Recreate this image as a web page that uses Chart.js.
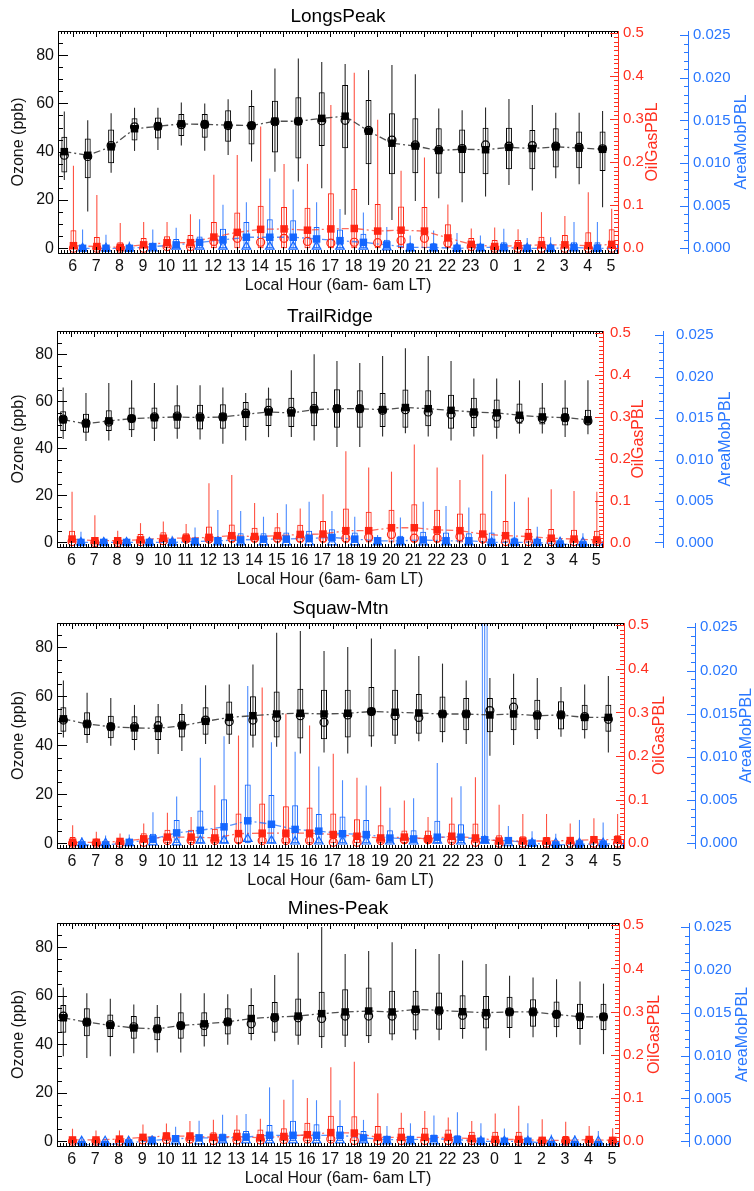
<!DOCTYPE html>
<html>
<head>
<meta charset="utf-8">
<script src="https://cdn.jsdelivr.net/npm/chart.js@4.4.1/dist/chart.umd.min.js"></script>
<style>
  body { margin: 0; background: #fff; width: 754px; height: 1191px; position: relative; overflow: hidden; }
  .panel { position: absolute; left: 0; width: 754px; }
</style>
</head>
<body>
<div class="panel" id="p0"><canvas id="c0"></canvas></div>
<div class="panel" id="p1"><canvas id="c1"></canvas></div>
<div class="panel" id="p2"><canvas id="c2"></canvas></div>
<div class="panel" id="p3"><canvas id="c3"></canvas></div>
<script>
// hours shown along the bottom, 6am to 6am local time
const hourLabels = ['6', '7', '8', '9', '10', '11', '12', '13', '14', '15', '16', '17', '18', '19', '20', '21', '22', '23', '0', '1', '2', '3', '4', '5']
const stationNames = ['LongsPeak', 'TrailRidge', 'Squaw-Mtn', 'Mines-Peak']
const ozoneTicks = [0, 20, 40, 60, 80]
const oilGasTicks = [0, 0.1, 0.2, 0.3, 0.4, 0.5]
const areaMobTicks = [0, 0.005, 0.01, 0.015, 0.02, 0.025]

// each row: [low whisker, box bottom, box top, high whisker, filled square, open marker]
const longsPeakOzone = [
  [28.3, 31.4, 46.2, 56.6, 40.0, 38.5], [15.2, 29.0, 45.5, 53.0, 38.5, 38.0], [31.3, 35.2, 49.2, 55.9, 42.0, 42.5],
  [40.3, 44.6, 53.8, 58.2, 49.5, 50.3], [40.7, 45.5, 54.2, 58.2, 50.5, 50.5], [42.5, 46.5, 55.6, 60.4, 51.5, 51.2],
  [40.4, 45.8, 55.6, 60.0, 51.3, 51.3], [38.6, 44.1, 57.2, 61.7, 51.0, 50.8], [35.9, 43.0, 58.9, 65.5, 50.8, 50.8],
  [31.7, 39.6, 61.1, 74.5, 52.6, 52.4], [27.6, 37.2, 62.5, 78.6, 52.6, 52.6], [24.8, 42.3, 64.6, 77.2, 53.8, 52.8],
  [13.8, 41.4, 67.6, 76.3, 54.7, 53.0], [17.9, 34.8, 61.4, 73.8, 48.5, 48.8], [11.7, 30.6, 55.9, 75.9, 43.5, 44.8],
  [19.6, 31.0, 53.8, 72.1, 42.3, 42.8], [20.7, 30.8, 49.7, 57.9, 40.5, 40.8], [19.0, 31.0, 49.2, 57.2, 41.0, 41.3],
  [21.4, 30.6, 49.9, 58.3, 40.8, 42.8], [26.2, 32.7, 49.9, 61.8, 41.8, 42.3], [23.9, 32.7, 49.0, 59.3, 41.3, 42.5],
  [29.0, 33.4, 49.7, 56.1, 42.0, 42.3], [26.5, 33.1, 48.3, 56.1, 41.5, 41.8], [17.0, 32.0, 48.3, 56.8, 41.0, 41.2]
]
const longsPeakOilGas = [
  [0, 0, 0.042, 0.192, 0.006, 0], [0, 0, 0.026, 0.124, 0.004, 0], [0, 0, 0.014, 0.059, 0.002, 0],
  [0, 0, 0.024, 0.061, 0.008, 0], [0, 0, 0.028, 0.061, 0.013, 0.004], [0, 0, 0.031, 0.079, 0.013, 0.004],
  [0, 0, 0.061, 0.171, 0.026, 0.016], [0, 0, 0.083, 0.217, 0.037, 0.023], [0, 0, 0.099, 0.283, 0.044, 0.014],
  [0, 0, 0.096, 0.196, 0.045, 0.023], [0, 0, 0.094, 0.196, 0.042, 0.016], [0, 0, 0.128, 0.333, 0.045, 0.012],
  [0, 0, 0.138, 0.408, 0.046, 0.014], [0, 0, 0.103, 0.299, 0.040, 0.013], [0, 0, 0.097, 0.180, 0.042, 0.018],
  [0, 0, 0.096, 0.211, 0.040, 0.023], [0, 0, 0.056, 0.102, 0.024, 0.012], [0, 0, 0.024, 0.046, 0.009, 0.004],
  [0, 0, 0.019, 0.048, 0.004, 0], [0, 0, 0.019, 0.044, 0.006, 0], [0, 0, 0.027, 0.084, 0.008, 0],
  [0, 0, 0.031, 0.075, 0.008, 0], [0, 0, 0.037, 0.130, 0.006, 0], [0, 0, 0.044, 0.092, 0.009, 0]
]
const longsPeakAreaMob = [
  [0, 0, 0.0003, 0.0022, 0, 0], [0, 0, 0.0001, 0.0016, 0, 0], [0, 0, 0.0001, 0.0008, 0, 0],
  [0, 0, 0.0005, 0.0022, 0.0002, 0], [0, 0, 0.0011, 0.0024, 0.0004, 0.0002], [0, 0, 0.0014, 0.0034, 0.0007, 0.0002],
  [0, 0, 0.0023, 0.0051, 0.0010, 0.0002], [0, 0, 0.0031, 0.0054, 0.0013, 0.0002], [0, 0, 0.0034, 0.0082, 0.0013, 0.0002],
  [0, 0, 0.0033, 0.0069, 0.0013, 0.0002], [0, 0, 0.0025, 0.0054, 0.0011, 0.0002], [0, 0, 0.0022, 0.0046, 0.0009, 0.0002],
  [0, 0, 0.0017, 0.0042, 0.0007, 0.0002], [0, 0, 0.0010, 0.0025, 0.0004, 0.0001], [0, 0, 0.0006, 0.0015, 0.0001, 0],
  [0, 0, 0.0006, 0.0021, 0.0001, 0], [0, 0, 0.0004, 0.0018, 0, 0], [0, 0, 0.0005, 0.0015, 0.0001, 0],
  [0, 0, 0.0007, 0.0023, 0.0001, 0], [0, 0, 0.0003, 0.0012, 0, 0], [0, 0, 0.0002, 0.0013, 0, 0],
  [0, 0, 0.0007, 0.0031, 0.0001, 0], [0, 0, 0.0007, 0.0031, 0, 0], [0, 0, 0.0005, 0.0020, 0, 0]
]

const trailRidgeOzone = [
  [44.0, 47.4, 55.8, 65.9, 52.2, 52.5], [43.1, 46.7, 54.8, 63.6, 50.5, 50.8], [43.4, 47.4, 56.2, 67.9, 51.7, 51.2],
  [44.8, 47.7, 57.4, 69.0, 52.7, 52.7], [43.1, 48.4, 57.4, 67.9, 53.1, 53.4], [44.1, 48.4, 58.4, 66.9, 53.4, 53.8],
  [43.8, 48.0, 58.6, 66.9, 53.1, 53.4], [42.0, 48.4, 58.8, 65.9, 53.4, 53.4], [43.4, 49.1, 59.8, 63.6, 54.5, 55.0],
  [44.8, 49.5, 61.2, 65.9, 55.5, 56.2], [44.8, 49.1, 61.6, 73.3, 55.1, 55.8], [43.4, 49.4, 64.1, 80.1, 56.5, 56.9],
  [40.6, 48.8, 65.2, 77.2, 56.9, 56.9], [40.6, 48.8, 64.8, 76.4, 56.9, 56.9], [45.1, 49.1, 63.6, 79.3, 56.5, 56.2],
  [46.5, 48.8, 65.1, 82.6, 57.4, 56.5], [45.1, 49.4, 64.8, 79.3, 56.9, 55.5], [43.4, 48.4, 62.9, 77.2, 56.2, 54.5],
  [45.1, 48.7, 61.6, 69.8, 55.5, 54.8], [44.1, 48.8, 60.8, 69.8, 55.1, 53.4], [46.3, 50.5, 59.1, 69.0, 54.1, 52.7],
  [46.3, 50.2, 57.4, 67.9, 53.4, 52.7], [44.8, 49.8, 57.4, 69.0, 53.1, 53.1], [46.0, 50.2, 56.5, 69.0, 52.2, 51.7]
]
const trailRidgeOilGas = [
  [0, 0, 0.028, 0.121, 0.008, 0.002], [0, 0, 0.012, 0.065, 0.004, 0], [0, 0, 0.008, 0.028, 0.004, 0],
  [0, 0, 0.020, 0.046, 0.006, 0.002], [0, 0, 0.024, 0.050, 0.010, 0.004], [0, 0, 0.022, 0.044, 0.010, 0.008],
  [0, 0, 0.038, 0.141, 0.012, 0.008], [0, 0, 0.043, 0.161, 0.016, 0.010], [0, 0, 0.035, 0.094, 0.014, 0.010],
  [0, 0, 0.036, 0.070, 0.016, 0.010], [0, 0, 0.042, 0.081, 0.019, 0.010], [0, 0, 0.051, 0.115, 0.020, 0.010],
  [0, 0, 0.081, 0.218, 0.028, 0.010], [0, 0, 0.073, 0.179, 0.028, 0.012], [0, 0, 0.078, 0.169, 0.035, 0.019],
  [0, 0, 0.091, 0.234, 0.035, 0.010], [0, 0, 0.078, 0.179, 0.030, 0.010], [0, 0, 0.069, 0.149, 0.028, 0.014],
  [0, 0, 0.069, 0.210, 0.020, 0.008], [0, 0, 0.051, 0.163, 0.016, 0.002], [0, 0, 0.032, 0.107, 0.014, 0.002],
  [0, 0, 0.032, 0.127, 0.010, 0.002], [0, 0, 0.030, 0.123, 0.008, 0.002], [0, 0, 0.028, 0.121, 0.006, 0.002]
]
const trailRidgeAreaMob = [
  [0, 0, 0.0002, 0.0013, 0, 0], [0, 0, 0.0001, 0.0006, 0, 0], [0, 0, 0.0001, 0.0003, 0, 0],
  [0, 0, 0.0001, 0.0005, 0, 0], [0, 0, 0.0002, 0.0008, 0, 0], [0, 0, 0.0004, 0.0018, 0.0001, 0],
  [0, 0, 0.0007, 0.0039, 0.0002, 0], [0, 0, 0.0011, 0.0038, 0.0003, 0], [0, 0, 0.0011, 0.0031, 0.0004, 0],
  [0, 0, 0.0012, 0.0046, 0.0004, 0], [0, 0, 0.0014, 0.0049, 0.0005, 0], [0, 0, 0.0016, 0.0038, 0.0006, 0],
  [0, 0, 0.0012, 0.0031, 0.0004, 0], [0, 0, 0.0005, 0.0009, 0.0002, 0], [0, 0, 0.0008, 0.0030, 0.0002, 0],
  [0, 0, 0.0013, 0.0049, 0.0003, 0], [0, 0, 0.0012, 0.0044, 0.0002, 0], [0, 0, 0.0011, 0.0042, 0.0002, 0],
  [0, 0, 0.0012, 0.0062, 0, 0], [0, 0, 0.0006, 0.0049, 0, 0], [0, 0, 0.0002, 0.0019, 0, 0],
  [0, 0, 0.0001, 0.0007, -0.0002, 0], [0, 0, 0.0001, 0.0011, -0.0003, 0], [0, 0, 0.0001, 0.0005, -0.0003, 0]
]

const squawMtnOzone = [
  [43.2, 45.5, 55.6, 66.5, 50.8, 50.3], [40.9, 44.2, 53.5, 61.5, 48.7, 48.7], [39.8, 42.9, 52.1, 59.3, 47.6, 47.6],
  [38.0, 42.2, 51.9, 56.5, 47.1, 47.6], [36.4, 42.2, 51.9, 56.9, 46.9, 48.0], [37.7, 43.2, 52.8, 56.9, 48.0, 48.3],
  [40.5, 44.3, 55.6, 64.5, 49.8, 50.3], [40.5, 44.3, 57.9, 64.9, 51.4, 49.7], [39.1, 43.9, 60.1, 73.0, 52.1, 50.3],
  [39.4, 43.2, 62.0, 86.0, 52.8, 51.4], [36.6, 42.8, 63.1, 86.7, 53.1, 52.1], [37.0, 42.5, 62.7, 78.6, 52.8, 49.4],
  [36.6, 43.2, 62.7, 80.2, 53.1, 52.4], [39.4, 43.6, 63.8, 83.7, 53.8, 53.8], [40.5, 43.9, 62.7, 79.3, 53.5, 52.1],
  [41.6, 44.7, 61.0, 76.5, 53.2, 51.4], [41.2, 45.3, 59.9, 73.4, 52.8, 52.8], [40.5, 46.1, 59.3, 66.5, 52.8, 52.8],
  [35.7, 45.3, 59.3, 67.5, 52.4, 54.2], [40.1, 46.1, 59.3, 69.3, 52.8, 55.6], [42.6, 46.1, 58.6, 67.5, 52.1, 52.4],
  [43.5, 46.5, 58.0, 63.8, 52.4, 52.4], [42.8, 46.1, 56.6, 64.9, 51.4, 51.7], [37.0, 45.5, 56.6, 68.3, 51.4, 50.6]
]
const squawMtnOilGas = [
  [0, 0, 0.014, 0.041, 0.002, 0], [0, 0, 0.008, 0.026, 0.002, 0], [0, 0, 0.008, 0.022, 0.004, 0],
  [0, 0, 0.023, 0.045, 0.010, 0.002], [0, 0, 0.031, 0.070, 0.014, 0.006], [0, 0, 0.031, 0.060, 0.014, 0.006],
  [0, 0, 0.033, 0.133, 0.012, 0.006], [0, 0, 0.068, 0.247, 0.022, 0.008], [0, 0, 0.091, 0.357, 0.023, 0.006],
  [0, 0, 0.085, 0.297, 0.023, 0.006], [0, 0, 0.082, 0.270, 0.023, 0.006], [0, 0, 0.068, 0.205, 0.020, 0.002],
  [0, 0, 0.055, 0.150, 0.016, 0.002], [0, 0, 0.041, 0.130, 0.012, 0.006], [0, 0, 0.029, 0.098, 0.014, 0.008],
  [0, 0, 0.029, 0.060, 0.010, 0.008], [0, 0, 0.045, 0.105, 0.016, 0.006], [0, 0, 0.045, 0.151, 0.012, 0.002],
  [0, 0, 0.018, 0.088, 0.005, 0], [0, 0, 0.016, 0.067, 0.005, 0], [0, 0, 0.014, 0.067, 0.005, 0],
  [0, 0, 0.014, 0.045, 0.006, 0], [0, 0, 0.016, 0.057, 0.008, 0], [0, 0, 0.018, 0.067, 0.008, 0]
]
const squawMtnAreaMob = [
  [0, 0, 0.0002, 0.0007, -0.0002, 0], [0, 0, 0.0002, 0.0009, -0.0002, 0], [0, 0, 0.0003, 0.0010, 0.0001, 0],
  [0, 0, 0.0011, 0.0036, 0.0005, 0.0001], [0, 0, 0.0027, 0.0054, 0.0012, 0.0001], [0, 0, 0.0038, 0.0099, 0.0015, 0.0003],
  [0, 0, 0.0051, 0.0124, 0.0019, 0.0003], [0, 0, 0.0068, 0.0182, 0.0026, 0.0005], [0, 0, 0.0056, 0.0117, 0.0022, 0.0003],
  [0, 0, 0.0044, 0.0106, 0.0016, 0.0002], [0, 0, 0.0034, 0.0089, 0.0014, 0.0002], [0, 0, 0.0031, 0.0073, 0.0011, 0.0002],
  [0, 0, 0.0027, 0.0067, 0.0010, 0.0002], [0, 0, 0.0015, 0.0041, 0.0006, 0.0002], [0, 0, 0.0015, 0.0052, 0.0005, 0.0002],
  [0, 0, 0.0026, 0.0093, 0.0007, 0.0003], [0, 0, 0.0022, 0.0066, 0.0007, 0.0002], [0, 0, 0.0300, 0.0300, 0.0004, 0.0003],
  [0, 0, 0.0005, 0.0020, 0.0003, 0], [0, 0, 0.0002, 0.0014, 0, 0], [0, 0, 0.0002, 0.0011, -0.0002, 0],
  [0, 0, 0.0003, 0.0027, -0.0001, 0], [0, 0, 0.0003, 0.0024, -0.0001, 0], [0, 0, 0.0003, 0.0015, 0, 0]
]

const minesPeakOzone = [
  [35.0, 44.7, 56.2, 63.4, 50.9, 51.6], [34.3, 43.3, 54.8, 61.0, 49.1, 49.1], [35.0, 43.0, 52.3, 58.8, 47.8, 48.1],
  [36.3, 42.2, 51.6, 56.4, 46.7, 47.2], [36.6, 41.6, 51.3, 56.2, 46.3, 46.3], [36.6, 42.2, 53.2, 61.0, 47.7, 47.7],
  [39.1, 43.3, 53.2, 61.0, 48.4, 47.7], [39.8, 44.0, 54.8, 60.6, 49.2, 49.2], [41.6, 44.2, 56.2, 63.1, 50.6, 48.4],
  [41.2, 44.7, 57.4, 68.5, 51.2, 50.9], [39.8, 43.5, 58.9, 77.7, 51.6, 50.9], [38.4, 42.9, 61.6, 88.3, 52.6, 50.6],
  [38.8, 43.5, 62.7, 77.2, 53.3, 51.6], [40.5, 43.3, 63.4, 78.4, 53.7, 51.6], [41.6, 44.0, 62.0, 82.1, 53.3, 51.6],
  [41.9, 45.6, 62.1, 79.3, 54.4, 53.7], [41.6, 46.0, 61.3, 77.2, 54.0, 53.7], [42.2, 46.3, 60.2, 74.5, 53.4, 51.9],
  [37.4, 46.5, 59.9, 73.1, 53.0, 51.9], [42.6, 46.7, 59.6, 68.2, 53.3, 53.3], [42.9, 47.2, 58.5, 67.5, 53.3, 53.3],
  [42.9, 47.0, 57.6, 66.8, 52.3, 52.3], [39.8, 46.3, 56.7, 65.9, 51.3, 51.3], [35.9, 45.8, 56.7, 65.0, 51.3, 51.3]
]
const minesPeakOilGas = [
  [0, 0, 0.009, 0.029, 0.003, 0], [0, 0, 0.008, 0.025, 0.003, 0], [0, 0, 0.008, 0.025, 0.005, 0],
  [0, 0, 0.017, 0.039, 0.009, 0.003], [0, 0, 0.021, 0.041, 0.012, 0.004], [0, 0, 0.020, 0.047, 0.012, 0.005],
  [0, 0, 0.021, 0.050, 0.009, 0.002], [0, 0, 0.027, 0.060, 0.011, 0.003], [0, 0, 0.027, 0.052, 0.008, 0.003],
  [0, 0, 0.030, 0.096, 0.011, 0.004], [0, 0, 0.043, 0.100, 0.015, 0.005], [0, 0, 0.059, 0.171, 0.020, 0.005],
  [0, 0, 0.058, 0.184, 0.019, 0.002], [0, 0, 0.035, 0.111, 0.009, 0.002], [0, 0, 0.031, 0.066, 0.009, 0.002],
  [0, 0, 0.031, 0.070, 0.009, 0.002], [0, 0, 0.027, 0.055, 0.009, 0.002], [0, 0, 0.022, 0.047, 0.006, 0.002],
  [0, 0, 0.022, 0.064, 0.004, 0], [0, 0, 0.022, 0.082, 0.004, 0], [0, 0, 0.010, 0.051, 0.002, 0],
  [0, 0, 0.012, 0.045, 0.002, 0], [0, 0, 0.012, 0.035, 0.004, 0], [0, 0, 0.009, 0.030, 0.002, 0]
]
const minesPeakAreaMob = [
  [0, 0, 0.0001, 0.0005, -0.0004, 0], [0, 0, 0.0001, 0.0003, -0.0004, 0], [0, 0, 0.0001, 0.0005, -0.0002, 0],
  [0, 0, 0.0002, 0.0007, 0.0001, 0], [0, 0, 0.0004, 0.0017, 0.0003, 0], [0, 0, 0.0005, 0.0024, 0.0004, 0],
  [0, 0, 0.0009, 0.0031, 0.0004, 0.0001], [0, 0, 0.0012, 0.0032, 0.0005, 0.0001], [0, 0, 0.0019, 0.0063, 0.0007, 0.0001],
  [0, 0, 0.0024, 0.0072, 0.0007, 0.0001], [0, 0, 0.0020, 0.0048, 0.0007, 0.0001], [0, 0, 0.0018, 0.0048, 0.0007, 0.0001],
  [0, 0, 0.0012, 0.0025, 0.0004, 0.0001], [0, 0, 0.0005, 0.0018, 0.0002, 0], [0, 0, 0.0005, 0.0021, 0.0002, 0],
  [0, 0, 0.0008, 0.0030, 0.0003, 0], [0, 0, 0.0007, 0.0034, 0.0002, 0], [0, 0, 0.0003, 0.0021, 0, 0],
  [0, 0, 0.0001, 0.0015, 0, 0], [0, 0, 0.0002, 0.0021, 0, 0], [0, 0, 0.0001, 0.0008, -0.0004, 0],
  [0, 0, 0.0001, 0.0007, -0.0004, 0], [0, 0, 0.0001, 0.0012, -0.0004, 0], [0, 0, 0.0001, 0.0010, -0.0004, 0]
]

// page layout of the four panels (pixels)
const panels = [
  { ozone: longsPeakOzone, oilGas: longsPeakOilGas, areaMob: longsPeakAreaMob, top: 0, padTop: 31, plotH: 222, left: 58, right: 618, blue: 688, redPad: 5, redTitle: 653, bluePad: 5, blueTitle: 742 },
  { ozone: trailRidgeOzone, oilGas: trailRidgeOilGas, areaMob: trailRidgeAreaMob, top: 297, padTop: 34, plotH: 216, left: 57, right: 603, blue: 663, redPad: 7, redTitle: 639, bluePad: 13, blueTitle: 726 },
  { ozone: squawMtnOzone, oilGas: squawMtnOilGas, areaMob: squawMtnAreaMob, top: 593, padTop: 30, plotH: 225, left: 57, right: 624, blue: 695, redPad: 4, redTitle: 660, bluePad: 5, blueTitle: 747 },
  { ozone: minesPeakOzone, oilGas: minesPeakOilGas, areaMob: minesPeakAreaMob, top: 893, padTop: 30, plotH: 223, left: 57, right: 619, blue: 689, redPad: 4, redTitle: 655, bluePad: 5, blueTitle: 743 }
]

const FONT = "'Liberation Sans', Arial, Helvetica, sans-serif"
const RED = '#ff3020'
const BLUE = '#2a78ff'
Chart.defaults.font.family = FONT

const seriesStyles = {
  ozone: { axis: 'y', dx: -0.36, color: '#000', whisker: 'rgba(20,20,20,0.9)', line: 'rgba(60,60,60,0.9)', hollow: 'circle', box: 6 },
  oilGas: { axis: 'yRed', dx: 0.03, color: '#ff2412', whisker: 'rgba(255,40,20,0.8)', line: 'rgba(255,60,40,0.75)', hollow: 'circle', box: 6 },
  areaMob: { axis: 'yBlue', dx: 0.42, color: '#1466ff', whisker: 'rgba(30,110,255,0.8)', line: 'rgba(30,110,255,0.75)', hollow: 'triangle', box: 6 }
}

// one box-and-whisker series built from the rows
const buildSeries = (rows, s) => {
  const at = (i, v) => ({ x: i + s.dx, y: v })
  return [
    { type: 'bar', yAxisID: s.axis, order: 6, clip: 0, grouped: false, barThickness: 1.1, inflateAmount: 0,
      data: rows.map((r, i) => at(i, [r[0], r[3]])), backgroundColor: s.whisker, borderWidth: 0 },
    { type: 'bar', yAxisID: s.axis, order: 5, clip: 0, grouped: false, barThickness: s.box, inflateAmount: 0,
      data: rows.map((r, i) => at(i, [r[1], r[2]])), backgroundColor: 'rgba(255,255,255,0)',
      borderColor: s.color, borderWidth: 1, borderSkipped: false },
    { type: 'line', yAxisID: s.axis, order: 3, clip: 0, data: rows.map((r, i) => at(i, r[4])),
      borderColor: s.line, borderWidth: 1.3, borderDash: [7, 3, 2, 3], pointRadius: 0, tension: 0 },
    { type: 'line', yAxisID: s.axis, order: 2, clip: 0, showLine: false, data: rows.map((r, i) => at(i, r[5])),
      pointStyle: s.hollow, pointRadius: s.hollow === 'triangle' ? 5 : 4, pointBackgroundColor: 'rgba(0,0,0,0)',
      pointBorderColor: s.color, pointBorderWidth: 1.2 },
    { type: 'line', yAxisID: s.axis, order: 1, clip: 0, showLine: false, data: rows.map((r, i) => at(i, r[4])),
      pointStyle: 'rect', pointRadius: 5.3, pointBackgroundColor: s.color, pointBorderWidth: 0 }
  ]
}

const stroke = (ctx, x1, y1, x2, y2) => {
  ctx.beginPath()
  ctx.moveTo(x1, y1)
  ctx.lineTo(x2, y2)
  ctx.stroke()
}

// IDL style inward ticks, top frame, right-hand axis titles and the panel title
const frameTicks = {
  id: 'frameTicks',
  afterDraw(chart, args, opts) {
    const { ctx, chartArea: a, scales } = chart
    const p = opts.panel
    ctx.save()
    ctx.lineWidth = 1
    ctx.strokeStyle = '#000'
    stroke(ctx, a.left, a.top + 0.5, a.right, a.top + 0.5)

    for (let v = 0; v <= 90; v += 5) {
      const y = Math.round(scales.y.getPixelForValue(v)) + 0.5
      stroke(ctx, a.left, y, a.left + (v % 20 === 0 ? 10 : 5), y)
    }
    const x = scales.x
    for (let k = Math.ceil(x.min * 8); k <= Math.floor(x.max * 8); k++) {
      const px = Math.round(x.getPixelForValue(k / 8)) + 0.5
      const len = k % 8 === 0 ? 6 : 3
      stroke(ctx, px, a.bottom, px, a.bottom - len)
      stroke(ctx, px, a.top, px, a.top + len)
    }

    ctx.strokeStyle = RED
    for (let k = 0; k <= 50; k++) {
      const y = Math.round(scales.yRed.getPixelForValue(k / 100)) + 0.5
      stroke(ctx, a.right, y, a.right - (k % 10 === 0 ? 8 : 4), y)
    }
    ctx.strokeStyle = BLUE
    const bx = scales.yBlue.left
    for (let k = 0; k <= 25; k++) {
      const y = Math.round(scales.yBlue.getPixelForValue(k / 1000)) + 0.5
      stroke(ctx, bx, y, bx - (k % 5 === 0 ? 8 : 4), y)
    }

    const midY = (a.top + a.bottom) / 2
    ctx.font = '16px ' + FONT
    ctx.textAlign = 'center'
    ctx.textBaseline = 'middle'
    ctx.fillStyle = RED
    ctx.translate(p.redTitle, midY)
    ctx.rotate(-Math.PI / 2)
    ctx.fillText('OilGasPBL', 0, 0)
    ctx.setTransform(1, 0, 0, 1, 0, 0)
    ctx.fillStyle = BLUE
    ctx.translate(p.blueTitle, midY)
    ctx.rotate(-Math.PI / 2)
    ctx.fillText('AreaMobPBL', 0, 0)
    ctx.setTransform(1, 0, 0, 1, 0, 0)

    ctx.fillStyle = '#000'
    ctx.font = '19px ' + FONT
    ctx.fillText(opts.title, (a.left + a.right) / 2, a.top - 14)
    ctx.restore()
  }
}

const tickFont = { size: 16 }
const sideFont = { size: 15 }

panels.forEach((p, n) => {
  const height = p.padTop + p.plotH + 44
  const box = document.getElementById('p' + n)
  box.style.top = p.top + 'px'
  box.style.height = height + 'px'
  const canvas = document.getElementById('c' + n)
  canvas.width = 754
  canvas.height = height

  new Chart(canvas, {
    type: 'bar',
    data: {
      datasets: [
        ...buildSeries(p.ozone, seriesStyles.ozone),
        ...buildSeries(p.oilGas, seriesStyles.oilGas),
        ...buildSeries(p.areaMob, seriesStyles.areaMob)
      ]
    },
    options: {
      responsive: false,
      animation: false,
      events: [],
      layout: { padding: { top: p.padTop, left: 0, right: 0, bottom: 0 } },
      plugins: {
        legend: { display: false },
        tooltip: { enabled: false },
        frameTicks: { panel: p, title: stationNames[n] }
      },
      scales: {
        x: {
          type: 'linear', position: 'bottom', min: -0.63, max: 23.3, offset: false,
          afterBuildTicks: (s) => { s.ticks = hourLabels.map((h, i) => ({ value: i })) },
          afterFit: (s) => { s.height = 44 },
          grid: { display: false, drawTicks: false },
          border: { display: true, color: '#000', width: 1 },
          ticks: { font: tickFont, color: '#111', padding: 4, maxRotation: 0, autoSkip: false,
            callback: (v) => hourLabels[v] },
          title: { display: true, text: 'Local Hour (6am- 6am LT)', font: { size: 16 }, color: '#111', padding: { top: 0, bottom: 2 } }
        },
        y: {
          type: 'linear', position: 'left', min: -2, max: 90,
          afterBuildTicks: (s) => { s.ticks = ozoneTicks.map(v => ({ value: v })) },
          afterFit: (s) => { s.width = p.left },
          grid: { display: false, drawTicks: false },
          border: { display: true, color: '#000', width: 1 },
          ticks: { font: tickFont, color: '#111', padding: 4 },
          title: { display: true, text: 'Ozone (ppb)', font: { size: 16 }, color: '#111', padding: { top: 9, bottom: 0 } }
        },
        yRed: {
          type: 'linear', position: 'right', weight: 0, min: -0.011, max: 0.505,
          afterBuildTicks: (s) => { s.ticks = oilGasTicks.map(v => ({ value: v })) },
          afterFit: (s) => { s.width = p.blue - p.right },
          grid: { display: false, drawTicks: false },
          border: { display: true, color: RED, width: 1 },
          ticks: { font: sideFont, color: RED, padding: p.redPad, callback: (v) => v.toFixed(1) }
        },
        yBlue: {
          type: 'linear', position: 'right', weight: 1, min: -0.00055, max: 0.0255,
          afterBuildTicks: (s) => { s.ticks = areaMobTicks.map(v => ({ value: v })) },
          afterFit: (s) => { s.width = 754 - p.blue },
          grid: { display: false, drawTicks: false },
          border: { display: true, color: BLUE, width: 1 },
          ticks: { font: sideFont, color: BLUE, padding: p.bluePad, callback: (v) => v.toFixed(3) }
        }
      }
    },
    plugins: [frameTicks]
  })
})
</script>
</body>
</html>
